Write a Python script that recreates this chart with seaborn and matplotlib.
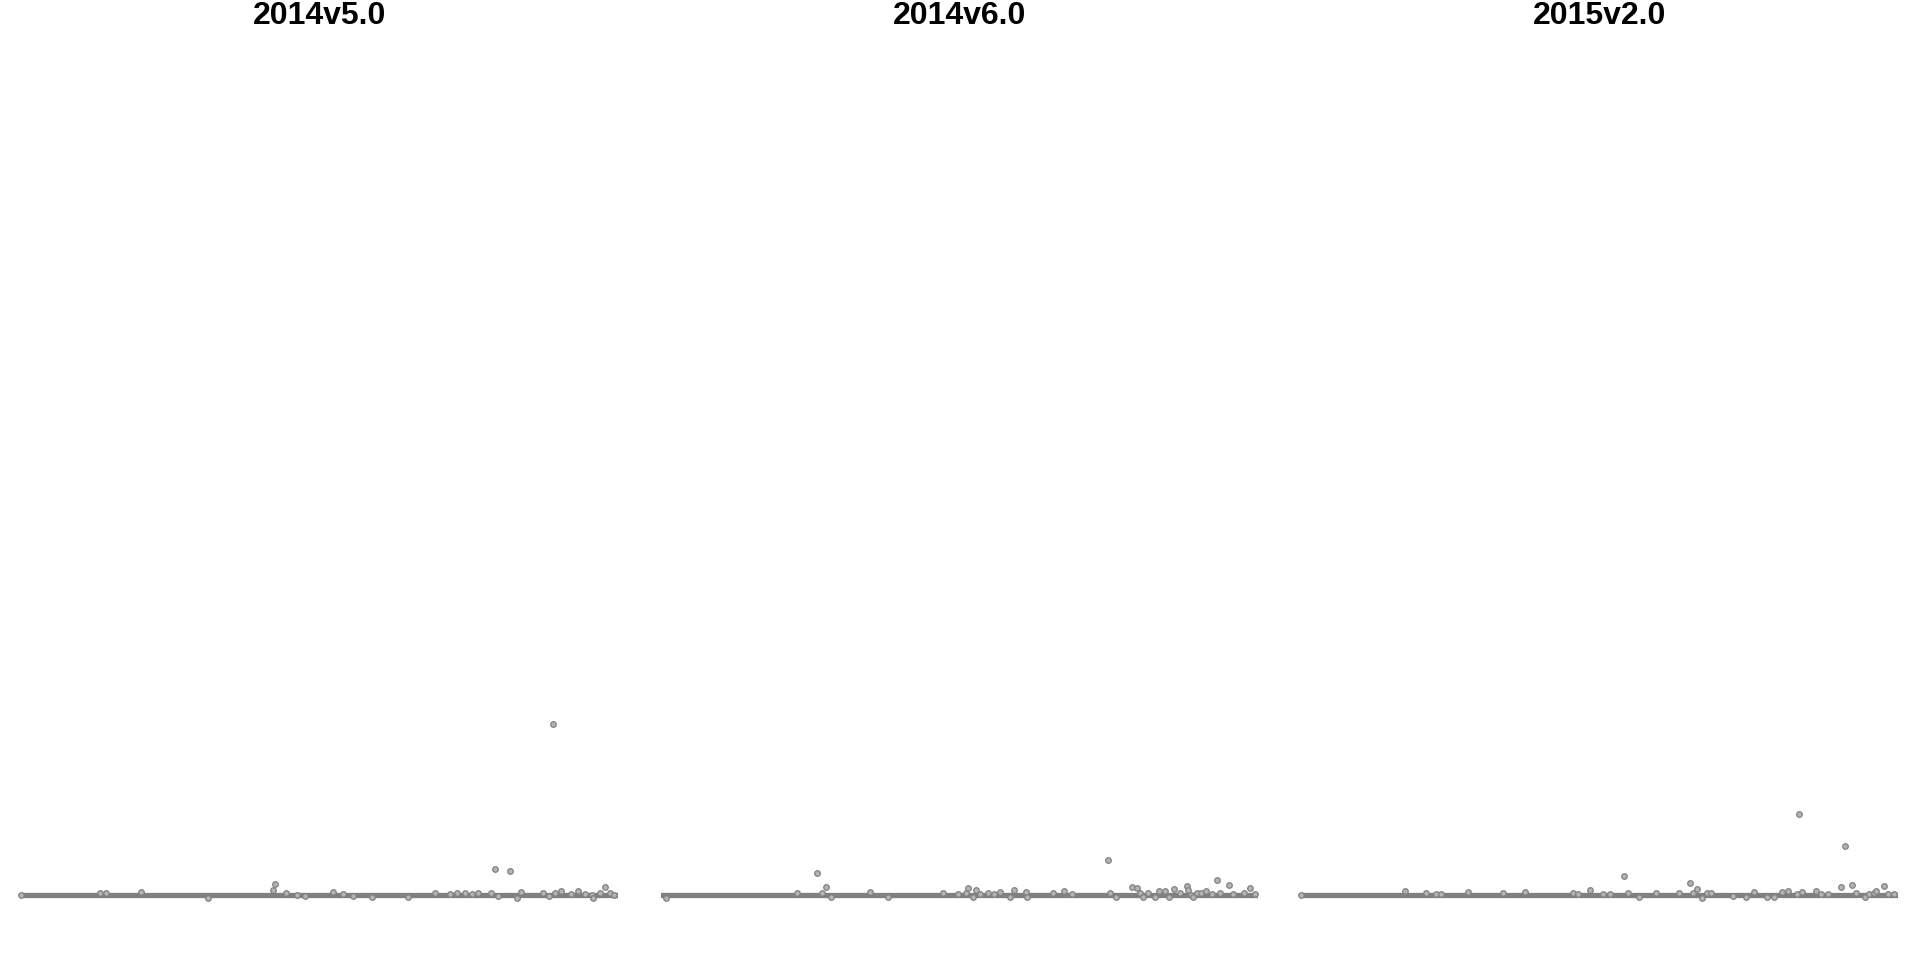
'''
Three panel dot strip of the emission versions, a gray zero line with the points on it.
'''
import matplotlib
matplotlib.use('Agg')
import matplotlib.pyplot as plt
import seaborn as sns
import pandas as pd

versions = ['2014v5.0', '2014v6.0', '2015v2.0']

# x = position along the panel, y = value
v50_x = [0, 79, 85, 120, 187, 252, 254, 265, 276, 284, 312, 322, 332, 351, 387, 414, 429, 436,
         444, 451, 457, 470, 474, 477, 489, 496, 500, 522, 528, 532, 534, 540, 550, 557, 564,
         571, 572, 579, 584, 589, 593]
v50_y = [0.0, 0.2, 0.2, 0.3, -0.3, 0.5, 1.1, 0.2, 0.0, -0.1, 0.3, 0.1, -0.1, -0.2, -0.2, 0.2, 0.1, 0.2,
         0.2, 0.1, 0.2, 0.2, 2.6, -0.1, 2.4, -0.3, 0.3, 0.2, -0.1, 17.1, 0.2, 0.4, 0.1, 0.4, 0.1,
         0.0, -0.3, 0.2, 0.8, 0.2, 0.0]

v60_x = [5, 136, 156, 161, 165, 170, 209, 227, 282, 297, 305, 307, 312, 315, 319, 327, 333, 339,
         349, 353, 365, 366, 392, 403, 411, 447, 449, 455, 471, 476, 479, 482, 487, 494, 498,
         504, 508, 513, 519, 526, 527, 530, 532, 536, 540, 545, 551, 556, 559, 568, 572, 583,
         589, 594]
v60_y = [-0.3, 0.2, 2.2, 0.2, 0.8, -0.2, 0.3, -0.2, 0.2, 0.1, 0.2, 0.7, -0.2, 0.5, 0.1, 0.2, 0.1, 0.3,
         -0.2, 0.5, 0.3, -0.2, 0.2, 0.4, 0.1, 3.5, 0.2, -0.2, 0.8, 0.7, 0.2, -0.2, 0.2, -0.2, 0.4,
         0.4, -0.2, 0.6, 0.2, 0.9, 0.5, 0.0, -0.2, 0.2, 0.2, 0.4, 0.1, 1.5, 0.2, 1.0, 0.1, 0.2,
         0.7, 0.1]

v20_x = [0, 104, 125, 135, 140, 167, 202, 224, 272, 277, 289, 302, 309, 323, 327, 338, 355, 378,
         389, 392, 396, 401, 406, 410, 432, 445, 453, 466, 473, 481, 487, 496, 498, 501, 515,
         520, 527, 540, 544, 551, 555, 564, 568, 573, 575, 583, 587, 593]
v20_y = [0.0, 0.4, 0.2, 0.1, 0.1, 0.3, 0.2, 0.3, 0.2, 0.1, 0.5, 0.1, 0.1, 1.9, 0.2, -0.2, 0.2, 0.2,
         1.2, 0.2, 0.6, -0.3, 0.2, 0.2, -0.1, -0.2, 0.3, -0.2, -0.2, 0.3, 0.4, 0.1, 8.1, 0.3, 0.4,
         0.1, 0.1, 0.8, 4.9, 1.0, 0.2, -0.2, 0.1, 0.2, 0.4, 0.9, 0.1, 0.1]

# zero line under the points
line_x = [0, 597]
line_y = [0, 0]

points = {'2014v5.0': (v50_x, v50_y), '2014v6.0': (v60_x, v60_y), '2015v2.0': (v20_x, v20_y)}

sns.set_style('white')
plt.rcParams['font.family'] = ['Liberation Sans', 'DejaVu Sans']

fig, axes = plt.subplots(1, 3, figsize=(19.2, 9.6), dpi=100, sharey=True)
fig.subplots_adjust(left=21/1920, right=1898/1920, top=1 - 45/960, bottom=1 - 905/960, wspace=43/597)

for ax, ver in zip(axes, versions):
    px, py = points[ver]
    df = pd.DataFrame({'x': px, 'y': py})
    sns.lineplot(x=line_x, y=line_y, color='#808080', linewidth=3.8, ax=ax, zorder=1)
    sns.scatterplot(data=df, x='x', y='y', s=16, color='#b4b4b4', edgecolor='#808080',
                    linewidth=0.9, marker='o', ax=ax, zorder=2, clip_on=False)
    ax.set_xlim(0, 597)
    ax.set_ylim(-1, 85)
    ax.set_axis_off()
    ax.text(0.5, 1 + 21.5/860, ver, transform=ax.transAxes, ha='center', va='baseline',
            fontsize=23, fontweight='bold', color='black')

plt.savefig('out.png', dpi=100)
